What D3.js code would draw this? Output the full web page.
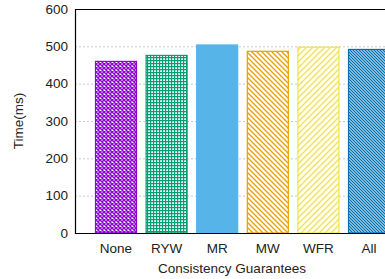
<!DOCTYPE html>
<html><head><meta charset="utf-8">
<script src="https://cdn.jsdelivr.net/npm/d3@7"></script>
<style>body{margin:0;background:#fff}svg{display:block}text{font-family:"Liberation Sans",Arial,sans-serif;fill:#222}</style>
</head><body><div id="c"></div>
<script>
const categories = ["None","RYW","MR","MW","WFR","All"];
const values = [461, 477, 505, 488, 499, 493];
const yTicks = [0,100,200,300,400,500,600];
const colors = ["#9400D3","#009E73","#56B4E9","#E69F00","#F0E442","#0072B2"];

const W = 385, H = 279;
const m = {l:75, t:9, b:233, r:410};
const svg = d3.select("#c").append("svg").attr("width",W).attr("height",H);
const defs = svg.append("defs");

function pat(id, size, draw){
  const p = defs.append("pattern").attr("id",id).attr("patternUnits","userSpaceOnUse")
    .attr("width",size).attr("height",size);
  p.append("rect").attr("width",size).attr("height",size).attr("fill","#fff");
  draw(p);
}
pat("p0",4,p=>{
  p.append("path").attr("d","M0,0L4,4M4,0L0,4").attr("stroke",colors[0]).attr("stroke-width",1.5);
});
pat("p1",3,p=>{
  p.append("path").attr("d","M0,0.5H3M0.5,0V3").attr("stroke",colors[1]).attr("stroke-width",1.4);
});
pat("p3",5,p=>{
  p.append("path").attr("d","M-1,-1L6,6M-1,4L1,6M4,-1L6,1").attr("stroke",colors[3]).attr("stroke-width",1.3);
});
pat("p4",6,p=>{
  p.append("path").attr("d","M-1,7L7,-1M-1,1L1,-1M5,7L7,5").attr("stroke",colors[4]).attr("stroke-width",1.3);
});
pat("p5",3,p=>{
  p.append("path").attr("d","M-1,-1L4,4M-1,2L1,4M2,-1L4,1").attr("stroke",colors[5]).attr("stroke-width",1.4);
});
const fills = ["url(#p0)","url(#p1)",colors[2],"url(#p3)","url(#p4)","url(#p5)"];

const x = d3.scaleBand().domain(categories).range([m.l, m.r]).paddingInner(0.17).paddingOuter(0.395);
const y = d3.scaleLinear().domain([0,600]).range([m.b, m.t]);

svg.append("g").selectAll("line").data(yTicks.filter(d=>d>0&&d<600)).join("line")
  .attr("x1",m.l).attr("x2",W).attr("y1",d=>y(d)+0.5).attr("y2",d=>y(d)+0.5)
  .attr("stroke","#c8c8c8").attr("stroke-dasharray","2,2").attr("stroke-width",1);

svg.append("g").selectAll("rect").data(categories).join("rect")
  .attr("x",d=>x(d)+0.5).attr("width",x.bandwidth()-1)
  .attr("y",(d,i)=>y(values[i])+0.5).attr("height",(d,i)=>m.b-y(values[i])-0.5)
  .attr("fill",(d,i)=>fills[i]).attr("stroke",(d,i)=>colors[i]).attr("stroke-width",1.2);

const ya = svg.append("g").attr("transform",`translate(${m.l},0)`)
  .call(d3.axisLeft(y).tickValues(yTicks).tickSize(0).tickPadding(7));
ya.select(".domain").remove();
ya.selectAll("text").style("font-size","13.5px").attr("fill","#222");
const xa = svg.append("g").attr("transform",`translate(0,${m.b})`)
  .call(d3.axisBottom(x).tickSize(0).tickPadding(10));
xa.select(".domain").remove();
xa.selectAll("text").style("font-size","13.5px").attr("fill","#222");

svg.append("path").attr("d",`M${W},${m.t+0.5}H${m.l+0.5}V${m.b+0.5}H${W}`)
  .attr("fill","none").attr("stroke","#000").attr("stroke-width",1.2);

svg.append("text").attr("transform",`translate(23,${(m.t+m.b)/2}) rotate(-90)`)
  .attr("text-anchor","middle").style("font-size","13.5px").text("Time(ms)");
svg.append("text").attr("x",232).attr("y",273).attr("text-anchor","middle")
  .style("font-size","13.5px").text("Consistency Guarantees");
</script></body></html>
